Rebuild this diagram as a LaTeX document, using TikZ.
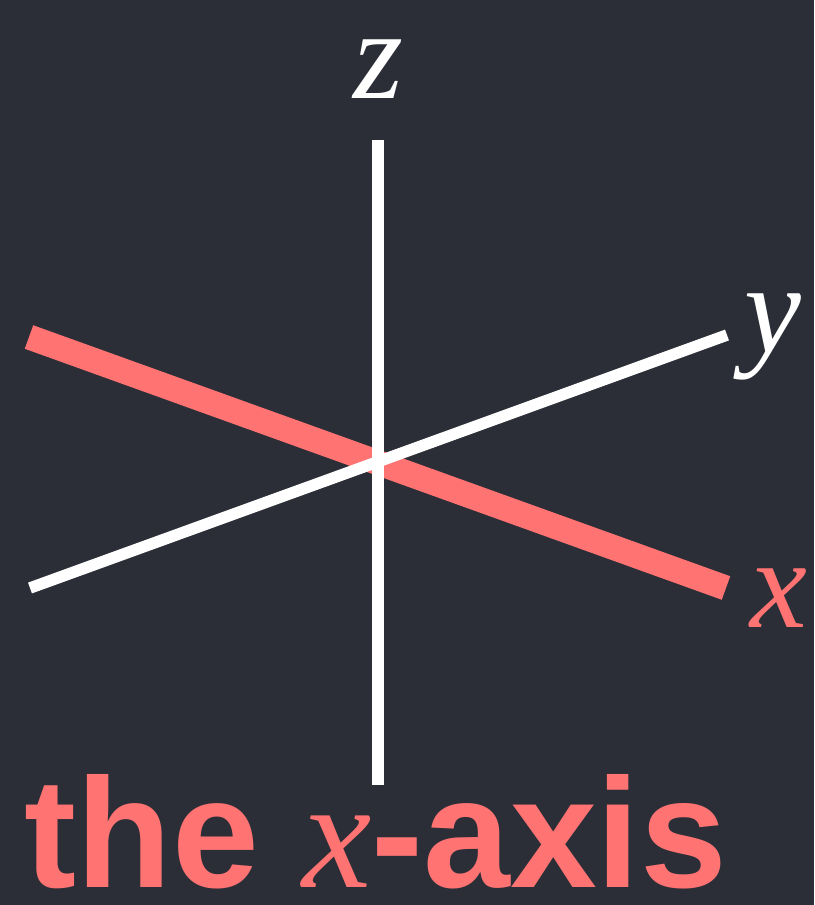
\documentclass[tikz,border=0pt]{standalone}
\usepackage{fontspec}
\setmainfont{Liberation Serif}
\newfontfamily\titlefont{Liberation Sans}
\definecolor{bgslate}{HTML}{2B2E36}
\definecolor{axisred}{HTML}{FF7373}
\begin{document}
\begin{tikzpicture}[x=1pt,y=-1pt,
  whiteaxis/.style={draw=white,line width=11.5pt,line cap=butt},
  redaxis/.style={draw=axisred,line width=25pt,line cap=butt},
  axislabel/.style={font=\fontsize{128}{128}\selectfont\itshape,inner sep=0pt}]
\fill[bgslate] (0,0) rectangle (814,905);
\useasboundingbox (0,0) rectangle (814,905);
\coordinate (xa) at (29,337);
\coordinate (xb) at (726,588);
\coordinate (ya) at (30,588);
\coordinate (yb) at (727,335);
\coordinate (za) at (378,140);
\coordinate (zb) at (378,785);
\draw[redaxis] (xa) -- (xb);
\draw[whiteaxis] (ya) -- (yb);
\draw[whiteaxis] (za) -- (zb);
\node[axislabel,text=white,anchor=base] (zl) at (378,98) {z};
\node[axislabel,text=white,anchor=base] (yl) at (773,352) {y};
\node[axislabel,text=axisred,anchor=base] (xl) at (779,627) {x};
\node[inner sep=0pt,anchor=base,text=axisred,font=\fontsize{156}{156}\titlefont\bfseries] (title) at (376,887) {the \textit{\rmfamily\mdseries x}-axis};
\end{tikzpicture}
\end{document}
